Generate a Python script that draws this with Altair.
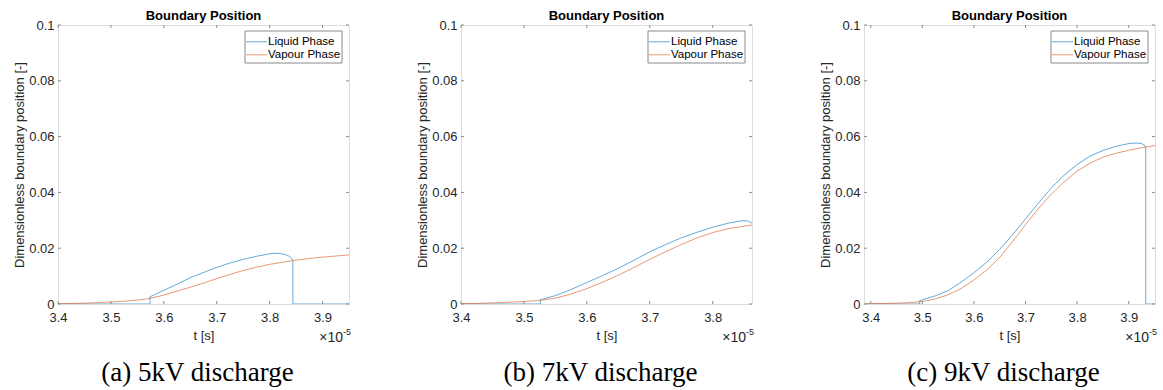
import altair as alt
import pandas as pd

# ---------------- data (t in units of 1e-5 s) ----------------
series_names = ["Liquid Phase", "Vapour Phase"]
series_colors = ["#0072BD", "#D95319"]

# (a) 5kV
t_a_liquid = [3.40, 3.574, 3.574, 3.59, 3.60, 3.625, 3.65, 3.675, 3.70, 3.725, 3.75, 3.775, 3.80,
              3.81, 3.82, 3.83, 3.837, 3.841, 3.844, 3.844, 3.95]
v_a_liquid = [0.0, 0.0, 0.0026, 0.0040, 0.0049, 0.0071, 0.0094, 0.0113, 0.0131, 0.0147, 0.0160, 0.0171, 0.0180,
              0.0182, 0.0181, 0.0177, 0.0171, 0.0164, 0.0155, 0.0, 0.0]
t_a_vapour = [3.40, 3.425, 3.45, 3.475, 3.50, 3.525, 3.55, 3.574, 3.60, 3.625, 3.65, 3.675, 3.70, 3.725,
              3.75, 3.775, 3.80, 3.825, 3.85, 3.875, 3.90, 3.925, 3.95]
v_a_vapour = [0.0001, 0.0002, 0.0003, 0.0005, 0.0007, 0.0010, 0.0014, 0.0020, 0.0032, 0.0046, 0.0060, 0.0075,
              0.0091, 0.0106, 0.0120, 0.0132, 0.0142, 0.0150, 0.0157, 0.0163, 0.0168, 0.0172, 0.0176]

# (b) 7kV
t_b_liquid = [3.40, 3.526, 3.526, 3.55, 3.575, 3.60, 3.625, 3.65, 3.675, 3.70, 3.725, 3.75, 3.775, 3.80,
              3.825, 3.845, 3.855, 3.8625]
v_b_liquid = [0.0, 0.0, 0.0015, 0.0030, 0.0052, 0.0077, 0.0102, 0.0128, 0.0157, 0.0187, 0.0213, 0.0237, 0.0257,
              0.0275, 0.0290, 0.0298, 0.0298, 0.0290]
t_b_vapour = [3.40, 3.425, 3.45, 3.475, 3.50, 3.526, 3.55, 3.575, 3.60, 3.625, 3.65, 3.675, 3.70, 3.725,
              3.75, 3.775, 3.80, 3.825, 3.85, 3.8625]
v_b_vapour = [0.0001, 0.0002, 0.0004, 0.0006, 0.0009, 0.0013, 0.0021, 0.0036, 0.0055, 0.0078, 0.0103, 0.0131,
              0.0160, 0.0187, 0.0213, 0.0237, 0.0256, 0.0270, 0.0279, 0.0283]

# (c) 9kV
t_c_liquid = [3.39, 3.495, 3.495, 3.50, 3.525, 3.55, 3.575, 3.60, 3.625, 3.65, 3.675, 3.70, 3.725, 3.75,
              3.775, 3.80, 3.825, 3.85, 3.875, 3.90, 3.915, 3.925, 3.93, 3.933, 3.933, 3.951]
v_c_liquid = [0.0, 0.0, 0.0012, 0.0015, 0.0029, 0.0048, 0.0078, 0.0112, 0.0150, 0.0196, 0.0248, 0.0305,
              0.0362, 0.0416, 0.0462, 0.0500, 0.0530, 0.0550, 0.0565, 0.0575, 0.0577, 0.0575, 0.0570,
              0.0563, 0.0, 0.0]
t_c_vapour = [3.39, 3.425, 3.45, 3.475, 3.50, 3.525, 3.55, 3.575, 3.60, 3.625, 3.65, 3.675, 3.70, 3.725,
              3.75, 3.775, 3.80, 3.825, 3.85, 3.875, 3.90, 3.925, 3.951]
v_c_vapour = [0.0001, 0.0002, 0.0003, 0.0005, 0.0009, 0.0018, 0.0033, 0.0055, 0.0086, 0.0122, 0.0167, 0.0224,
              0.0284, 0.0342, 0.0394, 0.0438, 0.0476, 0.0505, 0.0526, 0.0540, 0.0551, 0.0560, 0.0568]

x_domains = [[3.40, 3.95], [3.40, 3.8625], [3.387, 3.951]]
x_ticks = [[3.4, 3.5, 3.6, 3.7, 3.8, 3.9], [3.4, 3.5, 3.6, 3.7, 3.8], [3.4, 3.5, 3.6, 3.7, 3.8, 3.9]]
y_ticks = [0, 0.02, 0.04, 0.06, 0.08, 0.1]
captions = ["(a) 5kV discharge", "(b) 7kV discharge", "(c) 9kV discharge"]
panel_title = "Boundary Position"
x_title = "t [s]"
y_title = "Dimensionless boundary position [-]"
exp_base = "×10"
exp_power = "-5"

# ---------------- style ----------------
W, H = 291, 279
FONT = "Liberation Sans"
AXIS_GREY = "#8a8a8a"
TEXT_GREY = "#262626"
LINE_OPACITY = 0.6


def panel(t_liq, v_liq, t_vap, v_vap, xdom, xt, caption):
    df = pd.DataFrame({
        "t": t_liq + t_vap,
        "v": v_liq + v_vap,
        "series": [series_names[0]] * len(t_liq) + [series_names[1]] * len(t_vap),
        "i": list(range(len(t_liq))) + list(range(len(t_vap))),
    })
    xscale = alt.Scale(domain=xdom, nice=False, zero=False)
    yscale = alt.Scale(domain=[0, 0.1], nice=False)
    xaxis = alt.Axis(
        values=xt, format=".1f", title=x_title, grid=False, ticks=False, domain=False,
        labelFont=FONT, labelFontSize=13, labelColor=TEXT_GREY, labelPadding=7,
        titleFont=FONT, titleFontSize=13, titleColor=TEXT_GREY, titleFontWeight="normal",
        titlePadding=5, labelFlush=False)
    yaxis = alt.Axis(
        values=y_ticks, format="~g", title=y_title, grid=False, ticks=False, domain=False,
        labelFont=FONT, labelFontSize=13, labelColor=TEXT_GREY, labelPadding=4,
        titleFont=FONT, titleFontSize=13, titleColor=TEXT_GREY, titleFontWeight="normal",
        titlePadding=2, labelFlush=False)
    X = alt.X("t:Q", scale=xscale, axis=xaxis)
    Y = alt.Y("v:Q", scale=yscale, axis=yaxis)
    lines = alt.Chart(df).mark_line(strokeWidth=1, opacity=LINE_OPACITY, clip=True).encode(
        x=X, y=Y,
        color=alt.Color("series:N", scale=alt.Scale(domain=series_names, range=series_colors),
                        legend=None),
        order=alt.Order("i:Q"),
    )
    xtdf = pd.DataFrame({"t": xt})
    ytdf = pd.DataFrame({"v": y_ticks})
    tb = alt.Chart(xtdf).mark_rule(color=AXIS_GREY, strokeWidth=1).encode(
        x=X, y=alt.value(H), y2=alt.value(H - 3))
    tt = alt.Chart(xtdf).mark_rule(color=AXIS_GREY, strokeWidth=1).encode(
        x=X, y=alt.value(0), y2=alt.value(3))
    tl = alt.Chart(ytdf).mark_rule(color=AXIS_GREY, strokeWidth=1).encode(
        y=Y, x=alt.value(0), x2=alt.value(3))
    tr = alt.Chart(ytdf).mark_rule(color=AXIS_GREY, strokeWidth=1).encode(
        y=Y, x=alt.value(W - 3), x2=alt.value(W))
    e1 = alt.Chart(pd.DataFrame({"s": [exp_base]})).mark_text(
        align="right", baseline="middle", font=FONT, fontSize=14, color=TEXT_GREY).encode(
        text="s:N", x=alt.value(W - 6), y=alt.value(H + 34))
    e2 = alt.Chart(pd.DataFrame({"s": [exp_power]})).mark_text(
        align="left", baseline="middle", font=FONT, fontSize=9, color=TEXT_GREY).encode(
        text="s:N", x=alt.value(W - 6), y=alt.value(H + 28))
    cap = alt.Chart(pd.DataFrame({"s": [caption]})).mark_text(
        align="center", baseline="middle", font="Liberation Serif", fontSize=27, color="black").encode(
        text="s:N", x=alt.value(W / 2 - 6), y=alt.value(H + 69))

    # legend box (drawn inside the plot, top-right)
    box = alt.Chart(pd.DataFrame({"s": ["legend"]})).mark_rect(
        fill="white", stroke=AXIS_GREY, strokeWidth=1).encode(
        x=alt.value(W - 104), x2=alt.value(W - 7), y=alt.value(6), y2=alt.value(38))
    leg_layers = [box]
    for k, (name, col) in enumerate(zip(series_names, series_colors)):
        ydy = 16.8 + 13 * k
        ldf = pd.DataFrame({"s": [name]})
        leg_layers.append(alt.Chart(ldf).mark_rule(color=col, strokeWidth=1, opacity=LINE_OPACITY).encode(
            x=alt.value(W - 103), x2=alt.value(W - 82), y=alt.value(ydy)))
        leg_layers.append(alt.Chart(ldf).mark_text(
            align="left", baseline="middle", font=FONT, fontSize=11.5, color="black").encode(
            text="s:N", x=alt.value(W - 81), y=alt.value(ydy)))

    return alt.layer(lines, tb, tt, tl, tr, e1, e2, cap, *leg_layers).properties(
        width=W, height=H,
        title=alt.TitleParams(panel_title, font=FONT, fontSize=13, fontWeight="bold",
                              color="black", anchor="middle", offset=-4))


pa = panel(t_a_liquid, v_a_liquid, t_a_vapour, v_a_vapour, x_domains[0], x_ticks[0], captions[0])
pb = panel(t_b_liquid, v_b_liquid, t_b_vapour, v_b_vapour, x_domains[1], x_ticks[1], captions[1])
pc = panel(t_c_liquid, v_c_liquid, t_c_vapour, v_c_vapour, x_domains[2], x_ticks[2], captions[2])

chart = alt.hconcat(pa, pb, pc, spacing=64).resolve_scale(
    color="independent", x="independent", y="independent"
).properties(
    padding={"left": 13, "top": 9, "right": 0, "bottom": 0}
).configure_view(stroke=AXIS_GREY, strokeWidth=1).configure(background="white")

chart.save("out.html", embed_options={"renderer": "svg", "actions": False})
